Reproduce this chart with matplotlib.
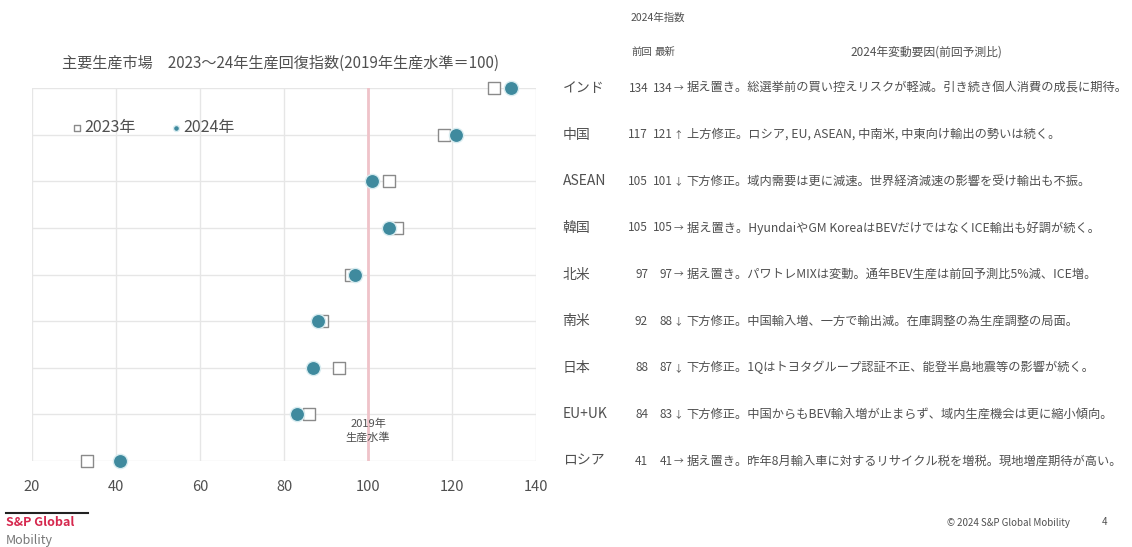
import matplotlib
matplotlib.use("Agg")
import matplotlib.pyplot as plt
from matplotlib.transforms import blended_transform_factory

plt.rcParams['font.family'] = ['Noto Sans CJK JP', 'DejaVu Sans']

# data
markets = ["インド", "中国", "ASEAN", "韓国", "北米", "南米", "日本", "EU+UK", "ロシア"]
idx_2023 = [130, 118, 105, 107, 96, 89, 93, 86, 33]
idx_2024 = [134, 121, 101, 105, 97, 88, 87, 83, 41]
prev_fc = [134, 117, 105, 105, 97, 92, 88, 84, 41]
latest_fc = [134, 121, 101, 105, 97, 88, 87, 83, 41]
arrows = ["→", "↑", "↓", "→", "→", "↓", "↓", "↓", "→"]
reasons = [
    "据え置き。総選挙前の買い控えリスクが軽減。引き続き個人消費の成長に期待。",
    "上方修正。ロシア, EU, ASEAN, 中南米, 中東向け輸出の勢いは続く。",
    "下方修正。域内需要は更に減速。世界経済減速の影響を受け輸出も不振。",
    "据え置き。HyundaiやGM KoreaはBEVだけではなくICE輸出も好調が続く。",
    "据え置き。パワトレMIXは変動。通年BEV生産は前回予測比5%減、ICE増。",
    "下方修正。中国輸入増、一方で輸出減。在庫調整の為生産調整の局面。",
    "下方修正。1Qはトヨタグループ認証不正、能登半島地震等の影響が続く。",
    "下方修正。中国からもBEV輸入増が止まらず、域内生産機会は更に縮小傾向。",
    "据え置き。昨年8月輸入車に対するリサイクル税を増税。現地増産期待が高い。",
]
x_ticks = [20, 40, 60, 80, 100, 120, 140]

teal = "#3f8a9e"
grid_c = "#e6e6e6"
text_c = "#505050"

fig = plt.figure(figsize=(11.32, 5.47), dpi=100)
ax = fig.add_axes([0.0283, 0.1572, 0.4452, 0.6819])

rows = list(range(len(markets)))

# base line at 2019 level
ax.axvline(100, color="#efc3c9", lw=2, zorder=1)

ax.scatter(idx_2023, rows, marker="s", s=85, facecolor="white", edgecolor="#8a8a8a",
           linewidth=1, zorder=3, clip_on=False, label="2023年")
ax.scatter(idx_2024, rows, marker="o", s=105, color=teal, edgecolor="#d8ecf0",
           linewidth=1, zorder=4, clip_on=False, label="2024年")

ax.set_xlim(20, 140)
ax.set_ylim(len(markets) - 1, 0)
ax.set_xticks(x_ticks)
ax.set_yticks(rows)
ax.set_yticklabels([])
ax.tick_params(axis="x", length=0, pad=14, labelsize=10.5, labelcolor=text_c)
ax.tick_params(axis="y", length=0)
ax.grid(True, color=grid_c, lw=1)
ax.set_axisbelow(True)
for s in ax.spines.values():
    s.set_visible(False)

leg = ax.legend(loc="upper left", bbox_to_anchor=(0.05, 0.955), ncol=2, frameon=False,
                fontsize=11.5, markerscale=0.42, handletextpad=0.1, columnspacing=2.2,
                handlelength=0.7, labelcolor=text_c)

ax.text(100, 7.35, "2019年\n生産水準", ha="center", va="center", fontsize=8, color=text_c,
        linespacing=1.3)

fig.text(0.248, 0.885, "主要生産市場　2023～24年生産回復指数(2019年生産水準＝100)",
         ha="center", va="center", fontsize=10.9, color=text_c)

# right-hand table aligned with the chart rows
tr = blended_transform_factory(fig.transFigure, ax.transData)
for i, m in enumerate(markets):
    fig.text(0.497, i, m, transform=tr, ha="left", va="center", fontsize=10, color=text_c)
    fig.text(0.5725, i, str(prev_fc[i]), transform=tr, ha="right", va="center",
             fontsize=8.5, color=text_c)
    fig.text(0.5945, i, str(latest_fc[i]), transform=tr, ha="right", va="center",
             fontsize=8.5, color=text_c)
    fig.text(0.595, i, arrows[i], transform=tr, ha="left", va="center",
             fontsize=7, color=text_c)
    fig.text(0.6065, i, reasons[i], transform=tr, ha="left", va="center",
             fontsize=8.8, color=text_c)

fig.text(0.557, 0.967, "2024年指数", ha="left", va="center", fontsize=7.5, color=text_c)
fig.text(0.558, 0.905, "前回", ha="left", va="center", fontsize=7.5, color=text_c)
fig.text(0.578, 0.905, "最新", ha="left", va="center", fontsize=7.5, color=text_c)
fig.text(0.818, 0.905, "2024年変動要因(前回予測比)", ha="center", va="center",
         fontsize=8.5, color=text_c)

# footer
fig.add_artist(plt.Line2D([0.005, 0.078], [0.062, 0.062], color="#222222",
                          lw=1.5, transform=fig.transFigure))
fig.text(0.005, 0.044, "S&P Global", ha="left", va="center", fontsize=9,
         fontweight="bold", color="#d6294f")
fig.text(0.005, 0.012, "Mobility", ha="left", va="center", fontsize=9, color="#777777")
fig.text(0.945, 0.043, "© 2024 S&P Global Mobility", ha="right", va="center",
         fontsize=7, color=text_c)
fig.text(0.976, 0.046, "4", ha="center", va="center", fontsize=7, color=text_c)

fig.savefig("out.png", dpi=100, facecolor="white")
